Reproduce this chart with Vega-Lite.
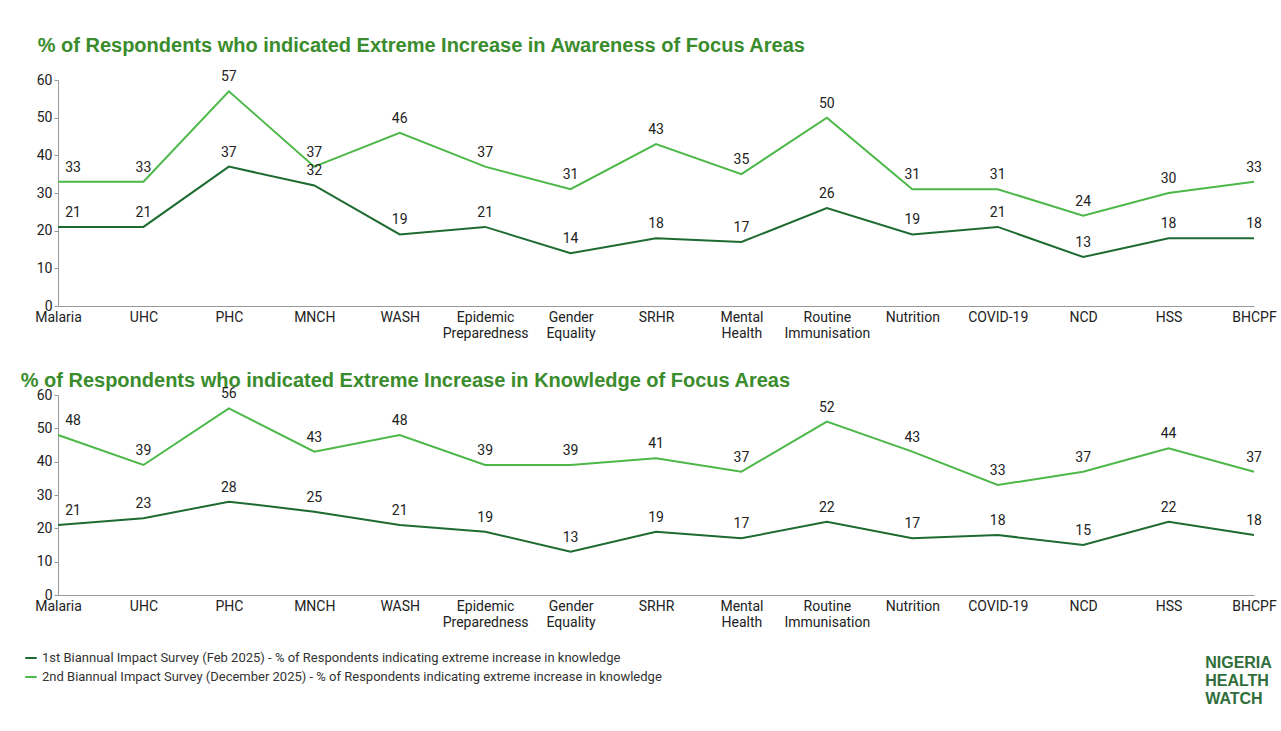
{
  "$schema": "https://vega.github.io/schema/vega-lite/v6.json",
  "background": "white",
  "padding": {"left": 20, "top": 36, "right": 8, "bottom": 10},
  "title": {"text": ["NIGERIA", "HEALTH", "WATCH"], "orient": "bottom", "anchor": "end", "align": "left", "dx": -71, "offset": -29, "color": "#2f6e3b", "fontSize": 16, "lineHeight": 18, "font": "Liberation Sans", "fontWeight": "bold"},
  "config": {
    "font": "Roboto",
    "view": {"stroke": null},
    "axis": {"labelFont": "Roboto", "labelFontSize": 14, "labelColor": "#222", "domainColor": "#999", "tickColor": "#999", "grid": false, "title": null},
    "title": {"font": "Liberation Sans", "fontSize": 20, "fontWeight": "bold", "color": "#3a8c2c", "anchor": "start"}
  },
  "data": {"values": [
    {"p":"A","area":"Malaria","s":"2","v":33},{"p":"A","area":"UHC","s":"2","v":33},{"p":"A","area":"PHC","s":"2","v":57},{"p":"A","area":"MNCH","s":"2","v":37},{"p":"A","area":"WASH","s":"2","v":46},{"p":"A","area":"Epidemic Preparedness","s":"2","v":37},{"p":"A","area":"Gender Equality","s":"2","v":31},{"p":"A","area":"SRHR","s":"2","v":43},{"p":"A","area":"Mental Health","s":"2","v":35},{"p":"A","area":"Routine Immunisation","s":"2","v":50},{"p":"A","area":"Nutrition","s":"2","v":31},{"p":"A","area":"COVID-19","s":"2","v":31},{"p":"A","area":"NCD","s":"2","v":24},{"p":"A","area":"HSS","s":"2","v":30},{"p":"A","area":"BHCPF","s":"2","v":33},
    {"p":"A","area":"Malaria","s":"1","v":21},{"p":"A","area":"UHC","s":"1","v":21},{"p":"A","area":"PHC","s":"1","v":37},{"p":"A","area":"MNCH","s":"1","v":32},{"p":"A","area":"WASH","s":"1","v":19},{"p":"A","area":"Epidemic Preparedness","s":"1","v":21},{"p":"A","area":"Gender Equality","s":"1","v":14},{"p":"A","area":"SRHR","s":"1","v":18},{"p":"A","area":"Mental Health","s":"1","v":17},{"p":"A","area":"Routine Immunisation","s":"1","v":26},{"p":"A","area":"Nutrition","s":"1","v":19},{"p":"A","area":"COVID-19","s":"1","v":21},{"p":"A","area":"NCD","s":"1","v":13},{"p":"A","area":"HSS","s":"1","v":18},{"p":"A","area":"BHCPF","s":"1","v":18},
    {"p":"K","area":"Malaria","s":"2","v":48},{"p":"K","area":"UHC","s":"2","v":39},{"p":"K","area":"PHC","s":"2","v":56},{"p":"K","area":"MNCH","s":"2","v":43},{"p":"K","area":"WASH","s":"2","v":48},{"p":"K","area":"Epidemic Preparedness","s":"2","v":39},{"p":"K","area":"Gender Equality","s":"2","v":39},{"p":"K","area":"SRHR","s":"2","v":41},{"p":"K","area":"Mental Health","s":"2","v":37},{"p":"K","area":"Routine Immunisation","s":"2","v":52},{"p":"K","area":"Nutrition","s":"2","v":43},{"p":"K","area":"COVID-19","s":"2","v":33},{"p":"K","area":"NCD","s":"2","v":37},{"p":"K","area":"HSS","s":"2","v":44},{"p":"K","area":"BHCPF","s":"2","v":37},
    {"p":"K","area":"Malaria","s":"1","v":21},{"p":"K","area":"UHC","s":"1","v":23},{"p":"K","area":"PHC","s":"1","v":28},{"p":"K","area":"MNCH","s":"1","v":25},{"p":"K","area":"WASH","s":"1","v":21},{"p":"K","area":"Epidemic Preparedness","s":"1","v":19},{"p":"K","area":"Gender Equality","s":"1","v":13},{"p":"K","area":"SRHR","s":"1","v":19},{"p":"K","area":"Mental Health","s":"1","v":17},{"p":"K","area":"Routine Immunisation","s":"1","v":22},{"p":"K","area":"Nutrition","s":"1","v":17},{"p":"K","area":"COVID-19","s":"1","v":18},{"p":"K","area":"NCD","s":"1","v":15},{"p":"K","area":"HSS","s":"1","v":22},{"p":"K","area":"BHCPF","s":"1","v":18}
  ]},
  "spacing": 31,
  "vconcat": [
    {
      "title": {"text": "% of Respondents who indicated Extreme Increase in Awareness of Focus Areas", "dx": 3, "offset": 14},
      "width": 1196, "height": 226,
      "transform": [{"filter": "datum.p == 'A'"}],
      "encoding": {
        "x": {"field": "area", "type": "ordinal", "sort": null, "scale": {"type": "point", "padding": 0}, "axis": {"labelAngle": 0, "ticks": false, "labelExpr": "split(datum.label, ' ')", "labelPadding": 4}},
        "y": {"field": "v", "type": "quantitative", "scale": {"domain": [0, 60]}, "axis": {"values": [0,10,20,30,40,50,60], "tickSize": 4}}
      },
      "layer": [
        {"mark": {"type": "line", "strokeWidth": 2}, "encoding": {"color": {"field": "s", "type": "nominal", "scale": {"domain": ["1","2"], "range": ["#1d6b30", "#4cb848"]}, "legend": {"orient": "none", "legendX": -34, "legendY": 571, "title": null, "symbolType": "stroke", "symbolStrokeWidth": 2, "symbolSize": 130, "labelFont": "Roboto", "labelFontSize": 13, "labelColor": "#333", "labelLimit": 0, "rowPadding": 5, "labelExpr": "datum.label == '1' ? '1st Biannual Impact Survey (Feb 2025) - % of Respondents indicating extreme increase in  knowledge' : '2nd Biannual Impact Survey (December 2025) - % of Respondents indicating extreme increase in  knowledge'"}}}},
        {"transform": [{"filter": "datum.area != 'Malaria'"}], "mark": {"type": "text", "dy": -14, "fontSize": 14, "color": "#222", "font": "Roboto"}, "encoding": {"text": {"field": "v", "type": "quantitative"}, "detail": {"field": "s"}}},
        {"transform": [{"filter": "datum.area == 'Malaria'"}], "mark": {"type": "text", "dy": -14, "dx": 15, "fontSize": 14, "color": "#222", "font": "Roboto"}, "encoding": {"text": {"field": "v", "type": "quantitative"}, "detail": {"field": "s"}}}
      ]
    },
    {
      "title": {"text": "% of Respondents who indicated Extreme Increase in Knowledge of Focus Areas", "dx": -14, "offset": -4},
      "width": 1196, "height": 200,
      "transform": [{"filter": "datum.p == 'K'"}],
      "encoding": {
        "x": {"field": "area", "type": "ordinal", "sort": null, "scale": {"type": "point", "padding": 0}, "axis": {"labelAngle": 0, "ticks": false, "labelExpr": "split(datum.label, ' ')", "labelPadding": 4}},
        "y": {"field": "v", "type": "quantitative", "scale": {"domain": [0, 60]}, "axis": {"values": [0,10,20,30,40,50,60], "tickSize": 4}}
      },
      "layer": [
        {"mark": {"type": "line", "strokeWidth": 2}, "encoding": {"color": {"field": "s", "type": "nominal"}}},
        {"transform": [{"filter": "datum.area != 'Malaria'"}], "mark": {"type": "text", "dy": -14, "fontSize": 14, "color": "#222", "font": "Roboto"}, "encoding": {"text": {"field": "v", "type": "quantitative"}, "detail": {"field": "s"}}},
        {"transform": [{"filter": "datum.area == 'Malaria'"}], "mark": {"type": "text", "dy": -14, "dx": 15, "fontSize": 14, "color": "#222", "font": "Roboto"}, "encoding": {"text": {"field": "v", "type": "quantitative"}, "detail": {"field": "s"}}}
      ]
    }
  ]
}
